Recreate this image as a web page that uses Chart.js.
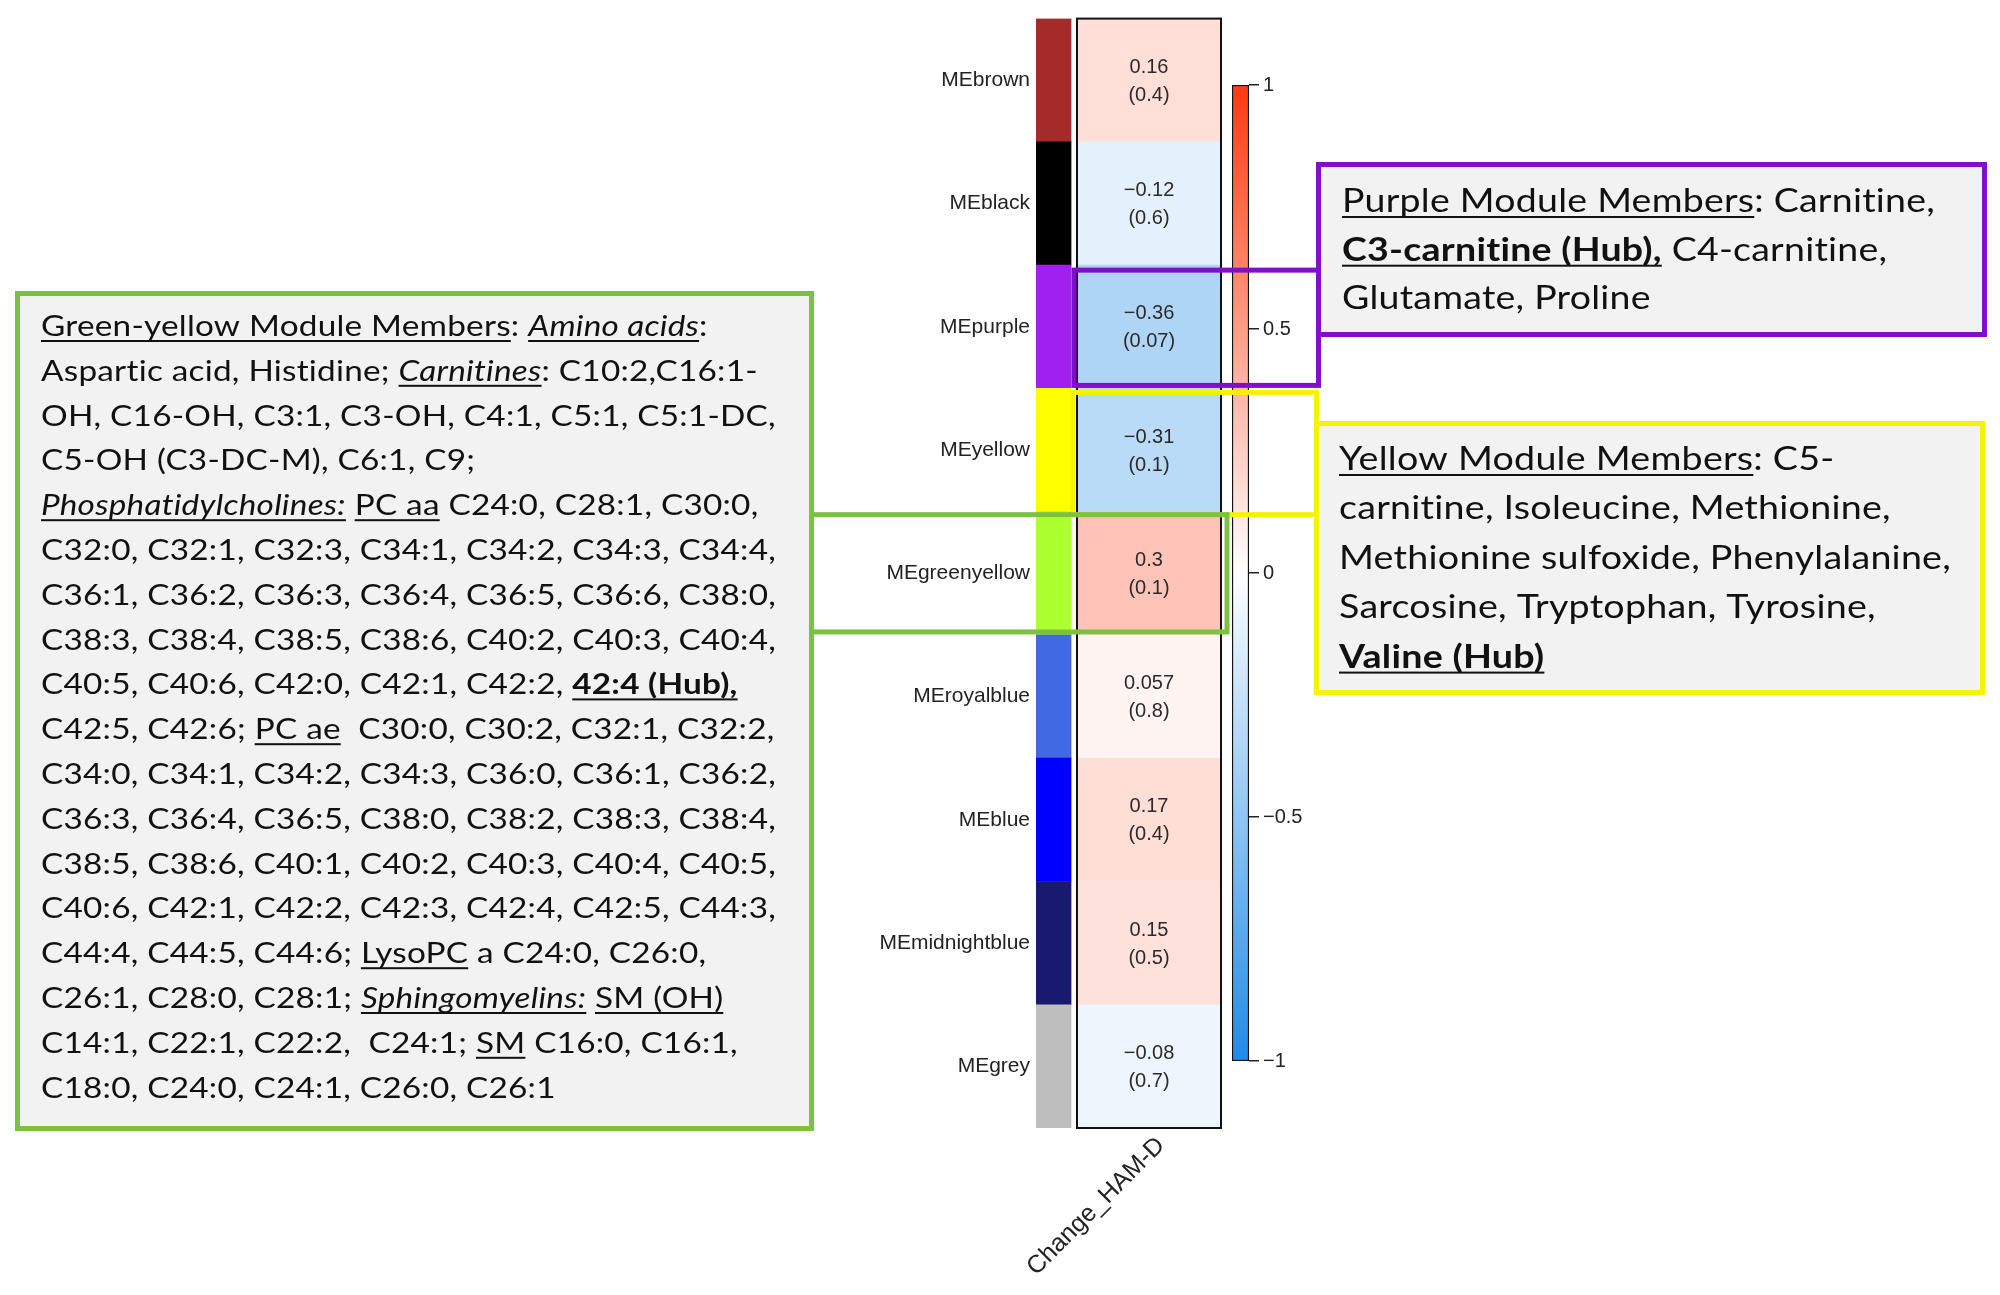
<!DOCTYPE html>
<html>
<head>
<meta charset="utf-8">
<script src="https://cdn.jsdelivr.net/npm/chart.js@4.4.1/dist/chart.umd.min.js"></script>
<style>
  body { margin: 0; background: #fff; }
  #wrap { position: relative; width: 2000px; height: 1295px; }
  canvas { position: absolute; }
</style>
</head>
<body>
<div id="wrap">
  <canvas id="scaleBar" width="130" height="1030" style="left:1230px;top:60px;z-index:0"></canvas>
  <canvas id="moduleChart" width="2000" height="1295" style="left:0;top:0;z-index:1"></canvas>
</div>
<script>
// module-trait relationship data
const modules = ['MEbrown', 'MEblack', 'MEpurple', 'MEyellow', 'MEgreenyellow',
                 'MEroyalblue', 'MEblue', 'MEmidnightblue', 'MEgrey'];
const moduleColors = ['#A52A2A', '#000000', '#A020F0', '#FFFF00', '#ADFF2F',
                      '#4169E1', '#0000FF', '#191970', '#BEBEBE'];
const correlations = [0.16, -0.12, -0.36, -0.31, 0.3, 0.057, 0.17, 0.15, -0.08];
const pValues = [0.4, 0.6, 0.07, 0.1, 0.1, 0.8, 0.4, 0.5, 0.7];
const traits = ['Change_HAM-D'];
const scaleTicks = [-1, -0.5, 0, 0.5, 1];

const RED = [255, 58, 14];
const BLUE = [32, 138, 230];
const heatColor = v => {
  const end = v >= 0 ? RED : BLUE;
  const t = Math.min(Math.abs(v), 1);
  return 'rgb(' + end.map(e => Math.round(255 + (e - 255) * t)).join(',') + ')';
};
const fmt = v => String(v).replace('-', '\u2212');

// module member annotation boxes (text only)
const greenLines = [
  [['Green-yellow Module Members', 'u'], ': ', ['Amino acids', 'iu'], ':'],
  ['Aspartic acid, Histidine; ', ['Carnitines', 'iu'], ': C10:2,C16:1-'],
  ['OH, C16-OH, C3:1, C3-OH, C4:1, C5:1, C5:1-DC,'],
  ['C5-OH (C3-DC-M), C6:1, C9;'],
  [['Phosphatidylcholines:', 'iu'], ' ', ['PC aa', 'u'], ' C24:0, C28:1, C30:0,'],
  ['C32:0, C32:1, C32:3, C34:1, C34:2, C34:3, C34:4,'],
  ['C36:1, C36:2, C36:3, C36:4, C36:5, C36:6, C38:0,'],
  ['C38:3, C38:4, C38:5, C38:6, C40:2, C40:3, C40:4,'],
  ['C40:5, C40:6, C42:0, C42:1, C42:2, ', ['42:4 (Hub),', 'bu']],
  ['C42:5, C42:6; ', ['PC ae', 'u'], '  C30:0, C30:2, C32:1, C32:2,'],
  ['C34:0, C34:1, C34:2, C34:3, C36:0, C36:1, C36:2,'],
  ['C36:3, C36:4, C36:5, C38:0, C38:2, C38:3, C38:4,'],
  ['C38:5, C38:6, C40:1, C40:2, C40:3, C40:4, C40:5,'],
  ['C40:6, C42:1, C42:2, C42:3, C42:4, C42:5, C44:3,'],
  ['C44:4, C44:5, C44:6; ', ['LysoPC', 'u'], ' a C24:0, C26:0,'],
  ['C26:1, C28:0, C28:1; ', ['Sphingomyelins:', 'iu'], ' ', ['SM (OH)', 'u']],
  ['C14:1, C22:1, C22:2,  C24:1; ', ['SM', 'u'], ' C16:0, C16:1,'],
  ['C18:0, C24:0, C24:1, C26:0, C26:1']
];
const purpleLines = [
  [['Purple Module Members', 'u'], ': Carnitine,'],
  [['C3-carnitine (Hub),', 'bu'], ' C4-carnitine,'],
  ['Glutamate, Proline']
];
const yellowLines = [
  [['Yellow Module Members', 'u'], ': C5-'],
  ['carnitine, Isoleucine, Methionine,'],
  ['Methionine sulfoxide, Phenylalanine,'],
  ['Sarcosine, Tryptophan, Tyrosine,'],
  [['Valine (Hub)', 'bu']]
];

const boxes = [
  { lines: greenLines, color: '#7CC242', x0: 15, y0: 291, x1: 814, y1: 1131,
    tx: 41, base: 336, dy: 44.8, size: 28, refLine: 5, refWidth: 735 },
  { lines: purpleLines, color: '#7F0FCB', x0: 1316, y0: 162, x1: 1987, y1: 337,
    tx: 1342, base: 212, dy: 48.7, size: 32, refLine: 0, refWidth: 593 },
  { lines: yellowLines, color: '#F6F200', x0: 1314, y0: 421, x1: 1985, y1: 695,
    tx: 1339, base: 470, dy: 49.4, size: 32, refLine: 2, refWidth: 612 }
];

function segFont(style, size) {
  return (style.includes('i') ? 'italic ' : '') + (style.includes('b') ? 'bold ' : '') + size + 'px Lato';
}

function lineWidth(ctx, segs, size) {
  let w = 0;
  segs.forEach(s => {
    const [t, st] = typeof s === 'string' ? [s, ''] : s;
    ctx.font = segFont(st, size);
    w += ctx.measureText(t).width;
  });
  return w;
}

function drawBox(ctx, b) {
  const lw = 5;
  ctx.save();
  ctx.fillStyle = '#F2F2F2';
  ctx.fillRect(b.x0, b.y0, b.x1 - b.x0, b.y1 - b.y0);
  ctx.strokeStyle = b.color;
  ctx.lineWidth = lw;
  ctx.strokeRect(b.x0 + lw / 2, b.y0 + lw / 2, b.x1 - b.x0 - lw, b.y1 - b.y0 - lw);
  // small letter spacing keeps Lato from forming "ti" ligatures
  ctx.letterSpacing = '0.2px';
  const sx = b.refWidth / lineWidth(ctx, b.lines[b.refLine], b.size);
  ctx.fillStyle = '#111';
  ctx.textBaseline = 'alphabetic';
  ctx.textAlign = 'left';
  b.lines.forEach((segs, i) => {
    ctx.save();
    ctx.translate(b.tx, b.base + i * b.dy);
    ctx.scale(sx, 1);
    let cx = 0;
    segs.forEach(s => {
      const [t, st] = typeof s === 'string' ? [s, ''] : s;
      ctx.font = segFont(st, b.size);
      ctx.fillText(t, cx, 0);
      const w = ctx.measureText(t).width;
      if (st.includes('u')) ctx.fillRect(cx, 4, w, 2);
      cx += w;
    });
    ctx.restore();
  });
  ctx.restore();
}

const STRIP_FROM = -0.274, STRIP_TO = -0.034;

const moduleAnnotations = {
  id: 'moduleAnnotations',
  afterDatasetsDraw(chart) {
    const ctx = chart.ctx;
    const meta = chart.getDatasetMeta(1);
    ctx.save();
    ctx.fillStyle = '#2a2a2a';
    ctx.font = '20px "Liberation Sans", Arial, sans-serif';
    ctx.textAlign = 'center';
    ctx.textBaseline = 'middle';
    meta.data.forEach((bar, i) => {
      const p = bar.getProps(['x', 'y', 'base'], true);
      const cx = (p.x + p.base) / 2;
      ctx.fillText(fmt(correlations[i]), cx, p.y - 13);
      ctx.fillText('(' + fmt(pValues[i]) + ')', cx, p.y + 15);
    });
    // outline of the heatmap column
    const first = meta.data[0].getProps(['x', 'y', 'base', 'height'], true);
    const last = meta.data[meta.data.length - 1].getProps(['x', 'y', 'base', 'height'], true);
    ctx.strokeStyle = '#111';
    ctx.lineWidth = 2;
    ctx.strokeRect(first.base + 1, first.y - first.height / 2, first.x - first.base - 2,
                   last.y + last.height / 2 - (first.y - first.height / 2));
    ctx.restore();
  },
  afterDraw(chart) {
    const ctx = chart.ctx;
    const heat = chart.getDatasetMeta(1).data;
    const strip = chart.getDatasetMeta(0).data;
    const row = i => {
      const p = heat[i].getProps(['x', 'y', 'base', 'height'], true);
      return { top: p.y - p.height / 2, bottom: p.y + p.height / 2, left: p.base, right: p.x };
    };
    const stripLeft = strip[0].getProps(['base'], true).base;
    ctx.save();
    ctx.lineWidth = 5;
    // purple connector
    let r = row(2);
    ctx.strokeStyle = boxes[1].color;
    ctx.strokeRect(r.left - 2, r.top + 5, boxes[1].x0 + 2.5 - (r.left - 2), r.bottom - 3 - (r.top + 5));
    // yellow connector
    r = row(3);
    ctx.strokeStyle = boxes[2].color;
    ctx.strokeRect(stripLeft + 2, r.top + 4, boxes[2].x0 + 2.5 - (stripLeft + 2), r.bottom + 3 - (r.top + 4));
    // green connector
    r = row(4);
    ctx.strokeStyle = boxes[0].color;
    ctx.strokeRect(boxes[0].x1 - 2.5, r.top + 3, r.right + 5 - (boxes[0].x1 - 2.5), r.bottom - 3 - (r.top + 3));
    ctx.restore();
    boxes.forEach(b => drawBox(ctx, b));
  }
};

new Chart(document.getElementById('moduleChart'), {
  type: 'bar',
  data: {
    labels: modules,
    datasets: [
      {
        label: 'module',
        data: modules.map(() => [STRIP_FROM, STRIP_TO]),
        backgroundColor: moduleColors,
        grouped: false,
        barPercentage: 1,
        categoryPercentage: 1,
        borderWidth: 0
      },
      {
        label: traits[0],
        data: modules.map(() => [0, 1]),
        backgroundColor: correlations.map(heatColor),
        grouped: false,
        barPercentage: 1,
        categoryPercentage: 1,
        borderWidth: 0
      }
    ]
  },
  options: {
    indexAxis: 'y',
    responsive: false,
    animation: false,
    layout: { padding: { left: 876, top: 18, right: 778, bottom: 17 } },
    plugins: { legend: { display: false }, tooltip: { enabled: false } },
    scales: {
      y: {
        type: 'category',
        position: 'left',
        grid: { display: false, drawTicks: false },
        border: { display: false },
        ticks: { color: '#222', padding: 6, font: { family: '"Liberation Sans", Arial', size: 21 } },
        afterFit: s => { s.width = 160; }
      },
      x: { type: 'linear', min: STRIP_FROM, max: 1, display: false },
      xc: {
        type: 'category',
        labels: traits,
        position: 'bottom',
        offset: true,
        grid: { display: false, drawTicks: false },
        border: { display: false },
        ticks: {
          color: '#222', minRotation: 45, maxRotation: 45, padding: 3, labelOffset: 32,
          font: { family: '"Liberation Sans", Arial', size: 25 }
        },
        afterFit: s => { s.height = 150; }
      }
    }
  },
  plugins: [moduleAnnotations]
});

// colour key
new Chart(document.getElementById('scaleBar'), {
  type: 'bar',
  data: {
    labels: ['r'],
    datasets: [{
      data: [[scaleTicks[0], scaleTicks[scaleTicks.length - 1]]],
      backgroundColor: ctx => {
        const area = ctx.chart.chartArea;
        if (!area) return 'transparent';
        const g = ctx.chart.ctx.createLinearGradient(0, area.bottom, 0, area.top);
        for (let k = 0; k <= 20; k++) {
          const v = -1 + k / 10;
          g.addColorStop(k / 20, heatColor(v));
        }
        return g;
      },
      borderColor: '#111',
      borderWidth: 1.5,
      borderSkipped: false,
      barPercentage: 1,
      categoryPercentage: 1
    }]
  },
  options: {
    responsive: false,
    animation: false,
    layout: { padding: { left: 2, top: 25, right: 31, bottom: 29 } },
    plugins: { legend: { display: false }, tooltip: { enabled: false } },
    scales: {
      x: { display: false },
      y: {
        position: 'right',
        min: scaleTicks[0],
        max: scaleTicks[scaleTicks.length - 1],
        afterBuildTicks: s => { s.ticks = scaleTicks.map(v => ({ value: v })); },
        grid: { drawOnChartArea: false, drawTicks: true, tickLength: 10, color: '#222', lineWidth: 1.5 },
        border: { display: false },
        ticks: { color: '#222', padding: 4, callback: v => fmt(v),
                 font: { family: '"Liberation Sans", Arial', size: 20 } },
        afterFit: s => { s.width = 80; }
      }
    }
  }
});
</script>
</body>
</html>
